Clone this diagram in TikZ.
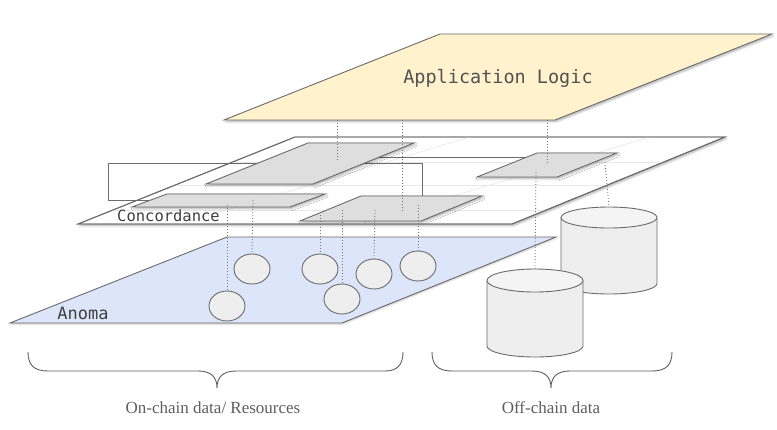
\documentclass[tikz,border=0pt]{standalone}
\usepackage{fontspec}
\setmainfont{Liberation Serif}
\newfontfamily\monofont{DejaVu Sans Mono}
\usetikzlibrary{shapes.geometric,shadows.blur}
\definecolor{appfill}{HTML}{FFF2CC}
\definecolor{anomafill}{HTML}{DCE5F9}
\definecolor{parafill}{HTML}{DEDEDE}
\definecolor{circfill}{HTML}{EEEEEE}
\definecolor{cylbody}{HTML}{EEEEEE}
\definecolor{cyltop}{HTML}{F4F4F4}
\definecolor{edge}{HTML}{6B6B6B}
\definecolor{labelgray}{HTML}{5E5E5E}
\definecolor{monogray}{HTML}{444444}
\begin{document}
\begin{tikzpicture}[x=1pt,y=-1pt,
  plane/.style={draw=edge,line width=0.9pt,line join=miter},
  softshadow/.style={blur shadow={shadow xshift=1.2pt,shadow yshift=-1.8pt,shadow blur radius=2pt,shadow opacity=30}},
  faint/.style={draw=black!9,line width=0.6pt},
  conn/.style={draw=edge,line width=0.9pt},
  dotline/.style={draw=black!55,line width=0.8pt,dash pattern=on 1pt off 2pt},
  circ/.style={ellipse,draw=edge,line width=0.9pt,fill=circfill,minimum width=36pt,minimum height=30pt,inner sep=0pt},
  cylline/.style={draw=edge,line width=0.9pt},
  monolabel/.style={font=\monofont,text=monogray,inner sep=0pt},
  bracelabel/.style={font=\fontsize{17}{19}\selectfont,text=labelgray,inner sep=0pt},
  bracestyle/.style={draw=labelgray,line width=0.9pt}
]
\useasboundingbox (0,0) rectangle (777,429);

% ---------- Anoma plane ----------
\coordinate (anBL) at (10,323);
\coordinate (anTL) at (227,237);
\coordinate (anTR) at (556,237);
\coordinate (anBR) at (342,323);
\path[plane,fill=anomafill,blur shadow={shadow xshift=0.8pt,shadow yshift=-1.2pt,shadow blur radius=1.5pt,shadow opacity=20}] (anBL) -- (anTL) -- (anTR) -- (anBR) -- cycle;
\node[monolabel,font=\monofont\fontsize{17}{19}\selectfont,text=black!75] (anoma) at (83,313) {Anoma};

% ---------- Concordance plane ----------
\coordinate (coBL) at (78,224);
\coordinate (coTL) at (295,137);
\coordinate (coTR) at (725,137);
\coordinate (coBR) at (512,224);
\path[plane,fill=white,softshadow] (coBL) -- (coTL) -- (coTR) -- (coBR) -- cycle;
\begin{scope}
  \clip (coBL) -- (coTL) -- (coTR) -- (coBR) -- cycle;
  \draw[faint] (0,162) -- (777,162);
  \draw[faint] (0,185) -- (777,185);
  \draw[faint] (0,210) -- (777,210);
  \draw[faint] (180,224) -- (470,137);
  \draw[faint] (360,224) -- (650,137);
  \draw[faint] (540,224) -- (830,137);
\end{scope}
\draw[plane] (coBL) -- (coTL) -- (coTR) -- (coBR) -- cycle;
\node[monolabel,font=\monofont\fontsize{15.5}{17}\selectfont,text=black!75] (conc) at (168.5,216) {Concordance};

% ---------- connectors under the grey parallelograms ----------
\coordinate (ka) at (160,200);
\coordinate (kb) at (422,202);
\coordinate (kc) at (372,157);
\coordinate (kd) at (540,157);
\draw[conn] (ka) -- (108,200) -- (108,163) -- (422,163) -- (kb);
\draw[conn] (kc) -- (kd);

% ---------- grey parallelograms ----------
\path[plane,fill=parafill,softshadow] (206,184) -- (308,143) -- (414,143) -- (313,184) -- cycle;
\path[plane,fill=parafill,softshadow] (132,207) -- (167,194) -- (325,194) -- (290,207) -- cycle;
\path[plane,fill=parafill,softshadow] (300,221) -- (361,196) -- (482,196) -- (421,221) -- cycle;
\path[plane,fill=parafill,softshadow] (477,177) -- (537,153) -- (617,153) -- (557,177) -- cycle;

% ---------- Application Logic plane ----------
\path[plane,fill=appfill,softshadow] (224,120) -- (440,34) -- (772,34) -- (555,120) -- cycle;
\node[monolabel,font=\monofont\fontsize{18.5}{20}\selectfont,text=black!68] (app) at (498,78) {Application Logic};

% ---------- resources (circles) ----------
\node[circ] (r1) at (227,306) {};
\node[circ] (r2) at (252,269) {};
\node[circ] (r3) at (320,269) {};
\node[circ] (r4) at (342,299) {};
\node[circ] (r5) at (374,274) {};
\node[circ] (r6) at (418,266) {};

% ---------- cylinders ----------
% back cylinder
\path[fill=cylbody] (561,217.5) -- (561,283.5) arc[start angle=180,end angle=0,x radius=48,y radius=10.5] -- (657,217.5) -- cycle;
\draw[cylline] (561,217.5) -- (561,283.5) arc[start angle=180,end angle=0,x radius=48,y radius=10.5] -- (657,217.5);
\draw[cylline,fill=cyltop] (609,217.5) ellipse[x radius=48,y radius=10.5];
\coordinate (cyl2top) at (609,207);
% front cylinder
\path[fill=cylbody] (487,280.5) -- (487,346) arc[start angle=180,end angle=0,x radius=48,y radius=11] -- (583,280.5) -- cycle;
\draw[cylline] (487,280.5) -- (487,346) arc[start angle=180,end angle=0,x radius=48,y radius=11] -- (583,280.5);
\draw[cylline,fill=cyltop] (535,280.5) ellipse[x radius=48,y radius=11.5];
\coordinate (cyl1top) at (535,269);

% ---------- dotted links ----------
\coordinate (a1) at (337,120);
\coordinate (a2) at (402,120);
\coordinate (a3) at (547,120);
\coordinate (p1) at (337,161);
\coordinate (p3) at (402,211);
\coordinate (p4) at (547,163);
\draw[dotline] (a1) -- (p1);
\draw[dotline] (a2) -- (p3);
\draw[dotline] (a3) -- (p4);
\coordinate (s1) at (227,205);
\coordinate (s2) at (253,200);
\coordinate (s3) at (320,215);
\coordinate (s4) at (342,210);
\coordinate (s5) at (375,210);
\coordinate (s6) at (418,205);
\coordinate (s7) at (536,172);
\coordinate (s8) at (605,162);
\draw[dotline] (s1) -- (r1.north);
\draw[dotline] (s2) -- (r2.north);
\draw[dotline] (s3) -- (r3.north);
\draw[dotline] (s4) -- (r4.north);
\draw[dotline] (s5) -- (r5.north);
\draw[dotline] (s6) -- (r6.north);
\draw[dotline] (s7) -- (cyl1top);
\draw[dotline] (s8) -- (cyl2top);

% ---------- braces ----------
\draw[bracestyle] (28,352) .. controls (28,365) and (34,371) .. (48,371) -- (198,371)
  .. controls (211,371) and (217,377) .. (217,388)
  .. controls (217,377) and (223,371) .. (236,371) -- (385,371)
  .. controls (397,371) and (403,365) .. (403,352);
\draw[bracestyle] (432,352) .. controls (432,365) and (438,371) .. (452,371) -- (532,371)
  .. controls (545,371) and (551,377) .. (551,388)
  .. controls (551,377) and (557,371) .. (570,371) -- (652,371)
  .. controls (666,371) and (672,365) .. (672,352);
\node[bracelabel] (onchain) at (213,408) {On-chain data/ Resources};
\node[bracelabel] (offchain) at (551,408) {Off-chain data};
\end{tikzpicture}
\end{document}
